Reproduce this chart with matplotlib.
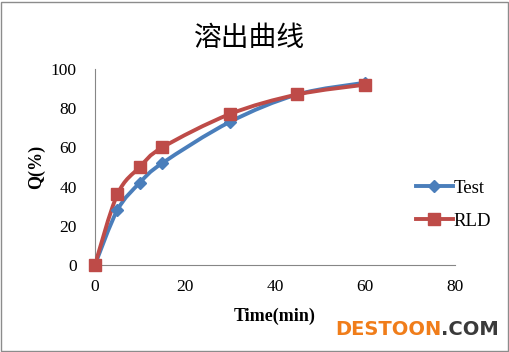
import matplotlib
matplotlib.use("Agg")
import matplotlib.pyplot as plt
from matplotlib.path import Path
from matplotlib.patches import PathPatch, Rectangle
from matplotlib.lines import Line2D
import numpy as np

time_min = [0, 5, 10, 15, 30, 45, 60]
test_q = [0, 28, 42, 52, 73, 87, 93]
rld_q = [0, 36, 50, 60, 77, 87, 92]
title = "溶出曲线"
xlabel = "Time(min)"
ylabel = "Q(%)"
xticks = [0, 20, 40, 60, 80]
yticks = [0, 20, 40, 60, 80, 100]

blue = "#4a7ebb"
red = "#be4b48"

fig = plt.figure(figsize=(5.1, 3.52), dpi=100)
fig.patch.set_facecolor("white")
fig.add_artist(Rectangle((0.002, 0.003), 0.994, 0.992, transform=fig.transFigure,
                         fill=False, edgecolor="#8c8c8c", lw=1.0))
ax = fig.add_axes([0.186, 0.247, 0.706, 0.557])
ax.set_xlim(0, 80)
ax.set_ylim(0, 100)


def smooth_path(xs, ys, t=0.5 / 3):
    pts = np.column_stack([xs, ys]).astype(float)
    verts = [pts[0]]
    codes = [Path.MOVETO]
    n = len(pts)
    for i in range(n - 1):
        p0 = pts[i - 1] if i > 0 else pts[i]
        p1 = pts[i]
        p2 = pts[i + 1]
        p3 = pts[i + 2] if i + 2 < n else pts[i + 1]
        c1 = p1 + (p2 - p0) * t
        c2 = p2 - (p3 - p1) * t
        verts += [c1, c2, p2]
        codes += [Path.CURVE4] * 3
    return Path(verts, codes)


for ys, col, mk, ms in [(test_q, blue, "D", 6), (rld_q, red, "s", 8)]:
    disp = ax.transData.transform(np.column_stack([time_min, ys]))
    path = smooth_path(disp[:, 0], disp[:, 1])
    path = Path(ax.transData.inverted().transform(path.vertices), path.codes)
    ax.add_patch(PathPatch(path, facecolor="none", edgecolor=col, lw=2.8, zorder=3,
                           capstyle="round", joinstyle="round"))
    ax.plot(time_min, ys, linestyle="none", marker=mk, markersize=ms,
            color=col, zorder=4, clip_on=False)

for s in ["top", "right"]:
    ax.spines[s].set_visible(False)
ax.spines["left"].set_color("#868686")
ax.spines["bottom"].set_color("#868686")
ax.spines["left"].set_linewidth(0.8)
ax.spines["bottom"].set_linewidth(0.8)
ax.set_xticks(xticks)
ax.set_yticks(yticks)
ax.tick_params(length=0)
serif = "Liberation Serif"
for lbl in ax.get_xticklabels() + ax.get_yticklabels():
    lbl.set_fontfamily(serif)
    lbl.set_fontsize(12.5)
ax.tick_params(axis="y", pad=13)
ax.tick_params(axis="x", pad=10)
ax.set_xlabel(xlabel, fontfamily=serif, fontsize=13, fontweight="bold", labelpad=9)
ax.set_ylabel(ylabel, fontfamily=serif, fontsize=13, fontweight="bold", labelpad=4)

fig.text(0.49, 0.893, title, ha="center", va="center", fontsize=20,
         family=["Noto Sans CJK SC", "DejaVu Sans"], fontweight="light")

handles = [Line2D([0], [0], color=blue, lw=2.8, marker="D", markersize=6),
           Line2D([0], [0], color=red, lw=2.8, marker="s", markersize=8)]
leg = fig.legend(handles, ["Test", "RLD"], loc="center left",
                 bbox_to_anchor=(0.782, 0.418), frameon=False,
                 prop={"family": serif, "size": 13.5}, handlelength=2.0,
                 handletextpad=0.0, labelspacing=0.85)

fig.text(0.865, 0.063, "DESTOON", ha="right", va="center", fontsize=14,
         fontweight="bold", color="#f07d1a", family="DejaVu Sans")
fig.text(0.865, 0.063, ".COM", ha="left", va="center", fontsize=14,
         fontweight="bold", color="#3a3a3a", family="DejaVu Sans")

fig.savefig("out.png", dpi=100)
